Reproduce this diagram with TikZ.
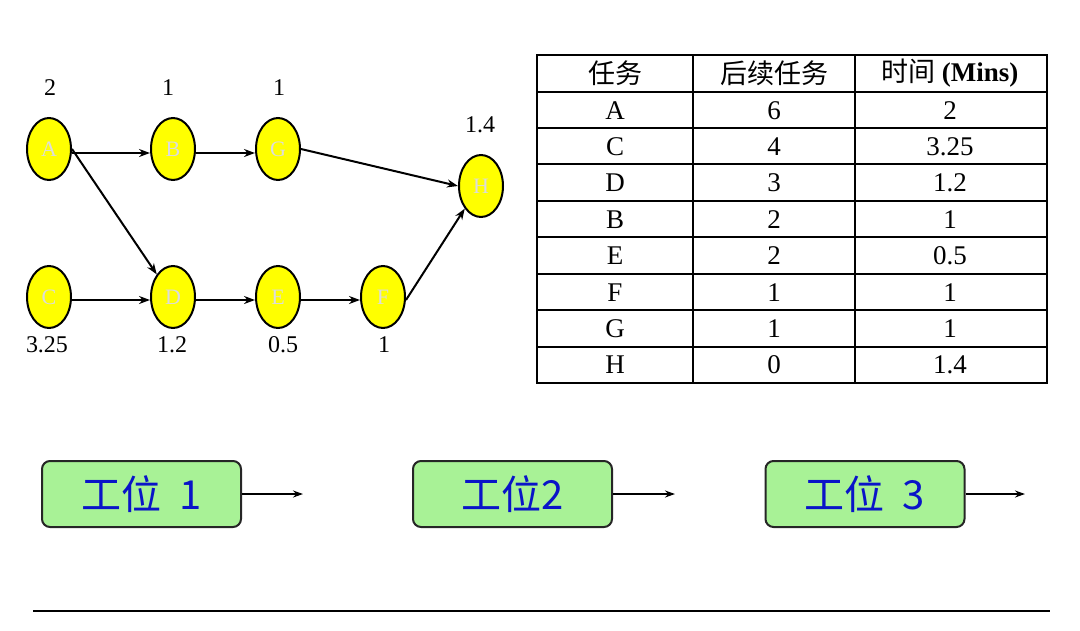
\documentclass[tikz,border=0pt]{standalone}
\usepackage{fontspec}
\setmainfont{Liberation Serif}
\newfontfamily\cjk{Noto Sans CJK SC}
\usetikzlibrary{arrows.meta,shapes.geometric}
\definecolor{nodeyellow}{HTML}{FFFF00}
\definecolor{boxgreen}{HTML}{A8F296}
\definecolor{boxblue}{HTML}{0A14C8}
\definecolor{lettergrey}{HTML}{DCDCDC}
\tikzset{
  task/.style={ellipse,draw=black,line width=2pt,fill=nodeyellow,minimum width=44pt,minimum height=62pt,inner sep=0pt,text=lettergrey,font=\fontsize{22}{22}\selectfont},
  num/.style={font=\fontsize{24}{24}\selectfont,inner sep=0pt},
  conn/.style={line width=2pt,-{Stealth[length=11pt,width=8pt]}},
  cell/.style={font=\fontsize{27}{27}\selectfont,inner sep=0pt},
  head/.style={font=\fontsize{27}{27}\selectfont,inner sep=0pt},
  station/.style={draw=black!85,line width=2pt,fill=boxgreen,rounded corners=8pt,minimum width=199pt,minimum height=66pt,inner sep=0pt,text=boxblue,font=\cjk\fontsize{40}{40}\selectfont},
  grid/.style={line width=2.2pt}
}
\begin{document}
\begin{tikzpicture}[x=1pt,y=-1pt]
\useasboundingbox (0,0) rectangle (1080,630);
% network nodes
\node[task] (A) at (49,149) {A};
\node[task] (B) at (173,149) {B};
\node[task] (G) at (278,149) {G};
\node[task] (H) at (481,186) {H};
\node[task] (C) at (49,297) {C};
\node[task] (D) at (173,297) {D};
\node[task] (E) at (278,297) {E};
\node[task] (F) at (383,297) {F};
% time labels
\node[num] (tA) at (50,88) {2};
\node[num] (tB) at (168,88) {1};
\node[num] (tG) at (279,88) {1};
\node[num] (tH) at (480,125) {1.4};
\node[num] (tC) at (47,345) {3.25};
\node[num] (tD) at (172,345) {1.2};
\node[num] (tE) at (283,345) {0.5};
\node[num] (tF) at (384,345) {1};
% connectors
\draw[conn] ([yshift=-4pt]A.east) -- ([yshift=-4pt]B.west);
\draw[conn] ([yshift=-4pt]B.east) -- ([yshift=-4pt]G.west);
\draw[conn] (A.east) -- (D.north west);
\draw[conn] (G.east) -- (H.west);
\draw[conn] ([yshift=-3pt]C.east) -- ([yshift=-3pt]D.west);
\draw[conn] ([yshift=-3pt]D.east) -- ([yshift=-3pt]E.west);
\draw[conn] ([yshift=-3pt]E.east) -- ([yshift=-3pt]F.west);
\draw[conn] ([yshift=-3pt]F.east) -- (H.south west);
% table
\draw[grid] (537,55) rectangle (1047,383);
\foreach \y in {92,128,164,201,237,274,310,347} \draw[grid] (537,\y) -- (1047,\y);
\draw[grid] (693,55) -- (693,383);
\draw[grid] (855,55) -- (855,383);
\node[head] (h1) at (615,73) {\cjk 任务};
\node[head] (h2) at (774,73) {\cjk 后续任务};
\node[head] (h3) at (950,73) {\cjk 时间\ \rmfamily\bfseries (Mins)};
\foreach \n/\t/\s/\tm [count=\i] in {A/A/6/2,C/C/4/3.25,D/D/3/1.2,B/B/2/1,E/E/2/0.5,F/F/1/1,G/G/1/1,H/H/0/1.4}{
  \pgfmathsetmacro{\yy}{92+36.4*(\i-0.5)}
  \node[cell] (r\i a) at (615,\yy) {\t};
  \node[cell] (r\i b) at (774,\yy) {\s};
  \node[cell] (r\i c) at (950,\yy) {\tm};
}
% stations
\node[station] (S1) at (141.5,494) {工位\ \ 1};
\node[station] (S2) at (512.5,494) {工位2};
\node[station] (S3) at (865,494) {工位\ \ 3};
\coordinate (e1) at (303,494);
\coordinate (e2) at (675,494);
\coordinate (e3) at (1025,494);
\draw[line width=2pt,-{Stealth[length=10pt,width=7pt]}] (S1.east) -- (e1);
\draw[line width=2pt,-{Stealth[length=10pt,width=7pt]}] (S2.east) -- (e2);
\draw[line width=2pt,-{Stealth[length=10pt,width=7pt]}] (S3.east) -- (e3);
% bottom rule
\coordinate (L1) at (33,611);
\coordinate (L2) at (1050,611);
\draw[line width=2pt] (L1) -- (L2);
\end{tikzpicture}
\end{document}
